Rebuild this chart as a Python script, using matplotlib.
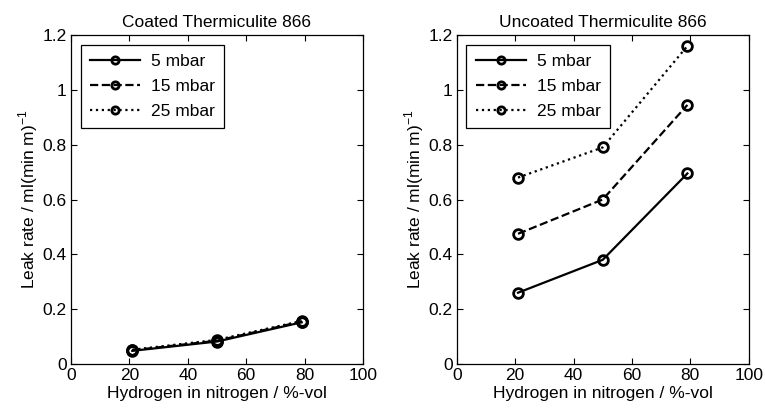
import matplotlib
matplotlib.use('Agg')
import matplotlib.pyplot as plt

plt.rcParams['font.family'] = ['Liberation Sans', 'DejaVu Sans']
plt.rcParams['font.size'] = 12.5

# --- DATA ---
hydrogen = [21, 50, 79]
series_labels = ['5 mbar', '15 mbar', '25 mbar']
coated_5 = [0.048, 0.082, 0.152]
coated_15 = [0.050, 0.085, 0.155]
coated_25 = [0.052, 0.088, 0.157]
uncoated_5 = [0.26, 0.38, 0.695]
uncoated_15 = [0.475, 0.60, 0.945]
uncoated_25 = [0.68, 0.79, 1.16]
titles = ['Coated Thermiculite 866', 'Uncoated Thermiculite 866']

line_styles = ['-', '--', ':']
FS = 12.5

fig = plt.figure(figsize=(7.65, 4.18), dpi=100)
ax1 = fig.add_axes([0.0928, 0.1292, 0.3817, 0.787])
ax2 = fig.add_axes([0.597, 0.1292, 0.3817, 0.787])

for ax, data, title in [(ax1, [coated_5, coated_15, coated_25], titles[0]),
                        (ax2, [uncoated_5, uncoated_15, uncoated_25], titles[1])]:
    for vals, ls, lab in zip(data, line_styles, series_labels):
        ax.plot(hydrogen, vals, linestyle=ls, color='black', linewidth=1.6,
                marker='o', markersize=7, markerfacecolor='none',
                markeredgewidth=2, markeredgecolor='black', label=lab)
    ax.set_xlim(0, 100)
    ax.set_ylim(0, 1.2)
    ax.set_xticks([0, 20, 40, 60, 80, 100])
    ax.set_yticks([0, 0.2, 0.4, 0.6, 0.8, 1, 1.2])
    ax.set_yticklabels(['0', '0.2', '0.4', '0.6', '0.8', '1', '1.2'])
    ax.tick_params(direction='in', top=True, right=True, length=4, width=0.8,
                   labelsize=FS, pad=3)
    for s in ax.spines.values():
        s.set_linewidth(0.9)
    ax.set_title(title, fontsize=FS, pad=6)
    ax.set_xlabel('Hydrogen in nitrogen / %-vol', fontsize=FS, labelpad=2)
    ax.set_ylabel(r'Leak rate / ml(min m)$^{\mathregular{-1}}$', fontsize=FS,
                  labelpad=2)
    leg = ax.legend(loc='upper left', handlelength=2.9, fancybox=False,
                    framealpha=1, edgecolor='black', borderpad=0.55,
                    labelspacing=0.55, handletextpad=0.6,
                    borderaxespad=0.55, markerscale=0.75, fontsize=FS)
    leg.get_frame().set_linewidth(0.9)

fig.savefig('out.png', dpi=100)
